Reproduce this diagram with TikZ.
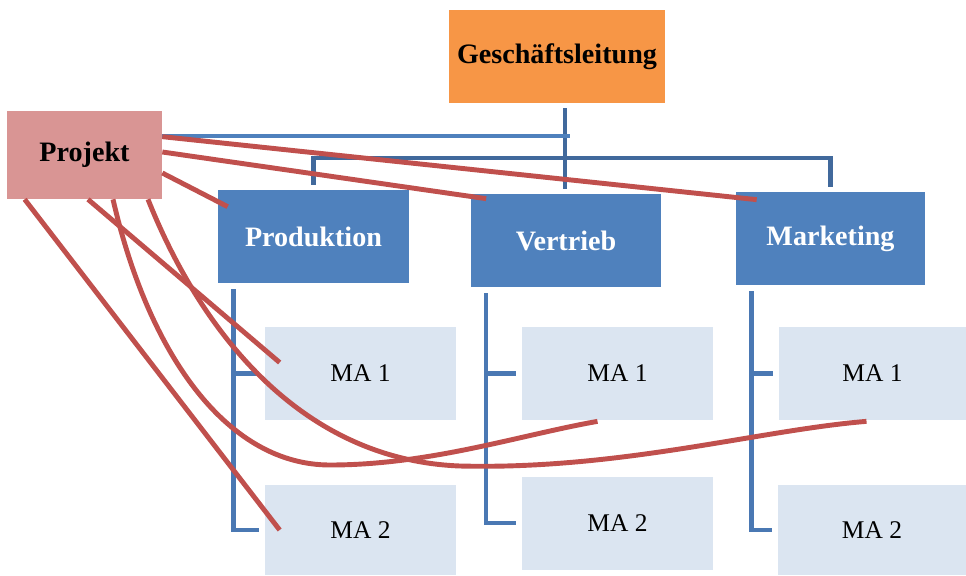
\documentclass[tikz,border=0pt]{standalone}
\usepackage{fontspec}
\setmainfont{Liberation Serif}
\usetikzlibrary{calc}
\definecolor{glorange}{HTML}{F79646}
\definecolor{projrose}{HTML}{D99594}
\definecolor{abtblue}{HTML}{4F81BD}
\definecolor{mablue}{HTML}{DBE5F1}
\definecolor{linedark}{HTML}{41699C}
\definecolor{lineblue}{HTML}{4A78B3}
\definecolor{redl}{HTML}{C0504D}
\tikzset{
  orgbox/.style={inner sep=0pt, minimum width=3.82cm, minimum height=1.86cm},
  chef/.style={orgbox, fill=glorange, minimum width=4.32cm, font=\bfseries\fontsize{16}{19}\selectfont},
  projbox/.style={orgbox, fill=projrose, minimum width=3.1cm, minimum height=1.76cm, font=\bfseries\fontsize{16}{19}\selectfont},
  abt/.style={orgbox, fill=abtblue, text=white, font=\bfseries\fontsize{16}{19}\selectfont},
  ma/.style={orgbox, fill=mablue, font=\fontsize{14.5}{17}\selectfont},
  orgline/.style={draw=linedark, line width=2.6pt},
  subline/.style={draw=lineblue, line width=2.6pt},
  projline/.style={draw=abtblue, line width=2.4pt},
  redline/.style={draw=redl, line width=2.8pt},
}
\begin{document}
\begin{tikzpicture}[x=0.02cm, y=-0.02cm]
\useasboundingbox (0,0) rectangle (966,575);
\node[chef] (gl) at (557,56.5) {Geschäftsleitung};
\node[projbox] (proj) at (84.5,155) {Projekt};
\node[abt] (prod) at (313.5,236.5) {Produktion};
\node[abt] (vert) at (566,240.5) {Vertrieb};
\node[abt, minimum width=3.78cm] (mark) at (830.5,238.5) {Marketing};
\node[ma] (pma1) at (360.5,373.5) {MA 1};
\node[ma, minimum height=1.8cm] (pma2) at (360.5,530) {MA 2};
\node[ma] (vma1) at (617.5,373.5) {MA 1};
\node[ma] (vma2) at (617.5,523) {MA 2};
\node[ma, minimum width=3.74cm] (mma1) at (872.5,373.5) {MA 1};
\node[ma, minimum width=3.76cm, minimum height=1.8cm] (mma2) at (872,530) {MA 2};
\coordinate (bus) at (565,158);
\coordinate (pj) at (570,136);
\draw[orgline] ($(vert.north)+(-1,-5)$) -- ($(vert.north |- gl.south)+(-1,5)$);
\draw[orgline, shorten <=2.8pt, shorten >=2.8pt] (prod.north) |- (bus) -| (mark.north);
\draw[projline] (pj -| proj.east) -- (pj);
\foreach \h/\a/\b in {prod/pma1/pma2, vert/vma1/vma2, mark/mma1/mma2}{
  \draw[subline] ($(\h.south west)+(16,6)$) coordinate (t) |- ($(\b.west)+(-6,0)$);
  \draw[subline] (t |- \a.west) -- ($(\a.west)+(-6,0)$);
}
\draw[redline] ($(proj.north east)+(0,26)$) -- ($(mark.north west)+(21,8)$);
\draw[redline] ($(proj.east)+(0,-3)$) -- ($(vert.north west)+(16,5)$);
\draw[redline] ($(proj.east)+(0,18)$) -- ($(prod.north west)+(10,17)$);
\draw[redline] ($(proj.south west)+(18,0)$) -- ($(pma2.west)+(15,0)$);
\draw[redline] ($(proj.south)+(3.5,0)$) -- ($(pma1.west)+(15,-11)$);
\draw[redline] ($(proj.south)+(28.5,0)$) .. controls (150,360) and (230,465) .. (330,465)
  .. controls (430,465) and (520,435) .. ($(vma1.south)+(-20,1)$);
\draw[redline] ($(proj.south)+(63.5,0)$) .. controls (200,330) and (300,460) .. (460,466)
  .. controls (620,470) and (760,430) .. ($(mma1.south)+(-6,1)$);
\end{tikzpicture}
\end{document}
